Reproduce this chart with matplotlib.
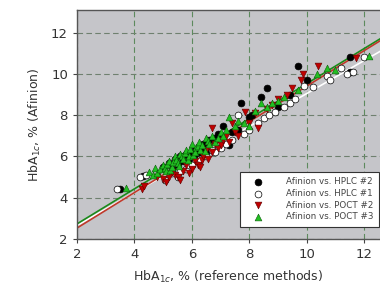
import matplotlib.pyplot as plt
import numpy as np

# values
hplc2_x = [3.5, 4.3, 5.0, 5.2, 5.3, 5.4, 5.5, 5.6, 5.7, 5.8, 5.9, 6.0, 6.1, 6.2, 6.3,
           6.4, 6.5, 6.6, 6.8, 6.9, 7.1, 7.3, 7.4, 7.6, 7.7, 8.0, 8.1, 8.4, 8.6,
           9.0, 9.4, 9.7, 10.0, 11.5, 11.5]
hplc2_y = [4.4, 5.05, 5.5, 5.7, 5.4, 5.9, 5.6, 6.0, 5.8, 6.1, 5.9, 6.1, 6.3, 6.0, 6.4,
           6.6, 6.2, 6.8, 6.9, 7.1, 7.5, 6.55, 7.2, 7.3, 8.6, 7.9, 8.0, 8.9, 9.3,
           8.4, 9.0, 10.4, 9.7, 10.8, 10.1]

hplc1_x = [3.4, 4.2, 4.4, 5.05, 5.3, 5.5, 5.6, 5.8, 5.9, 6.0, 6.2, 6.3, 6.5, 6.7,
           6.8, 7.0, 7.2, 7.4, 7.6, 7.8, 8.0, 8.3, 8.5, 8.7, 8.9, 9.2, 9.4, 9.6,
           9.9, 10.2, 10.7, 10.8, 11.2, 11.4, 11.6, 11.98]
hplc1_y = [4.4, 5.0, 5.1, 4.85, 5.2, 5.0, 5.3, 5.4, 5.6, 5.6, 5.8, 5.9, 6.0, 6.3,
           6.2, 6.4, 6.6, 6.8, 8.0, 7.1, 7.3, 7.6, 7.85, 8.0, 8.15, 8.4, 8.6, 8.8,
           9.4, 9.35, 9.9, 9.7, 10.3, 10.0, 10.1, 10.8]

poct2_x = [4.25, 4.35, 4.8, 5.0, 5.1, 5.2, 5.3, 5.4, 5.5, 5.6, 5.7, 5.8, 5.9, 6.0,
           6.1, 6.2, 6.3, 6.35, 6.4, 6.5, 6.55, 6.6, 6.7, 6.8, 6.7, 6.9, 7.0, 7.1,
           7.2, 7.3, 7.4, 7.5, 7.6, 7.85, 8.0, 8.2, 8.3, 8.6, 8.8, 9.0, 9.3, 9.5,
           9.8, 9.86, 10.4, 11.7]
poct2_y = [4.4, 4.55, 5.0, 4.9, 4.75, 5.0, 5.25, 5.1, 5.0, 4.86, 5.3, 5.6, 5.2, 5.4,
           5.8, 5.6, 5.5, 5.85, 6.0, 6.3, 5.9, 6.5, 6.2, 6.6, 7.4, 6.4, 6.55, 6.8,
           7.0, 6.7, 7.6, 7.2, 7.0, 8.15, 7.6, 8.1, 7.4, 8.3, 8.5, 8.8, 9.0, 9.3,
           9.7, 10.0, 10.4, 10.77]

poct3_x = [3.7, 4.5, 4.65, 4.7, 4.8, 4.9, 5.0, 5.05, 5.1, 5.15, 5.2, 5.25, 5.3, 5.35,
           5.4, 5.45, 5.5, 5.55, 5.6, 5.65, 5.7, 5.75, 5.8, 5.85, 5.9, 5.95, 6.0,
           6.05, 6.1, 6.15, 6.2, 6.25, 6.3, 6.35, 6.45, 6.5, 6.55, 6.6, 6.7, 6.8,
           6.9, 7.0, 7.1, 7.2, 7.3, 7.5, 7.6, 7.8, 8.0, 8.2, 8.4, 8.6, 8.8, 9.0,
           9.2, 9.7, 10.35, 10.7, 11.0, 12.15]
poct3_y = [4.45, 5.25, 5.1, 5.45, 5.2, 5.4, 5.6, 5.45, 5.3, 5.65, 5.8, 5.35, 5.5, 5.75,
           6.0, 5.85, 5.7, 5.55, 6.1, 6.0, 5.9, 6.15, 6.3, 5.85, 6.0, 6.35, 6.6,
           6.05, 6.2, 6.45, 6.5, 6.7, 6.3, 6.55, 6.25, 6.9, 6.75, 6.6, 7.0, 6.7,
           6.9, 7.2, 7.0, 7.3, 7.9, 7.5, 7.7, 7.6, 7.5, 8.2, 8.6, 8.4, 8.6, 8.7,
           8.9, 9.2, 10.0, 10.3, 10.2, 10.86]

# regression lines (intercept, slope)
fit_white = (1.05, 0.80)
fit_red = (0.81, 0.86)
fit_green = (1.03, 0.85)

labels = ['Afinion vs. HPLC #2', 'Afinion vs. HPLC #1',
          'Afinion vs. POCT #2', 'Afinion vs. POCT #3']

fig = plt.figure(figsize=(3.8, 2.99), dpi=100)
ax = fig.add_axes([0.2026, 0.2007, 0.7974, 0.766])
ax.set_facecolor('#c5c5c9')

ax.set_xlim(2, 12.55)
ax.set_ylim(2, 13.1)

xs = np.array([2, 12.55])
ax.plot(xs, fit_white[0] + fit_white[1] * xs, color='white', lw=1.2, zorder=2)
ax.plot(xs, fit_green[0] + fit_green[1] * xs, color='#1a8a1a', lw=1.2, zorder=2)
ax.plot(xs, fit_red[0] + fit_red[1] * xs, color='#c0392b', lw=1.2, zorder=2)

ms = 24
ax.scatter(hplc2_x, hplc2_y, s=ms, marker='o', facecolor='black', edgecolor='black',
           lw=0.5, zorder=3, label=labels[0])
ax.scatter(hplc1_x, hplc1_y, s=ms, marker='o', facecolor='white', edgecolor='black',
           lw=0.5, zorder=3, label=labels[1])
ax.scatter(poct2_x, poct2_y, s=ms, marker='v', facecolor='#c00000', edgecolor='#600000',
           lw=0.4, zorder=3, label=labels[2])
ax.scatter(poct3_x, poct3_y, s=ms, marker='^', facecolor='#22c022', edgecolor='#0a5a0a',
           lw=0.4, zorder=4, label=labels[3])

ax.set_xticks([2, 4, 6, 8, 10, 12])
ax.set_yticks([2, 4, 6, 8, 10, 12])
ax.xaxis.grid(True, color='#5d8a5d', linestyle=(0, (5, 3)), lw=0.8)
ax.yaxis.grid(True, color='#6f806f', linestyle=(0, (5, 3)), lw=0.8)
ax.set_axisbelow(True)
ax.tick_params(direction='out', length=3, colors='#444444', labelsize=9.5,
               labelcolor='#333333')
for side in ['left', 'bottom', 'top']:
    ax.spines[side].set_color('#555555')
    ax.spines[side].set_linewidth(1.0)
ax.spines['right'].set_visible(False)

ax.set_xlabel('HbA$_{1c}$, % (reference methods)', fontsize=9, color='#333333',
              labelpad=6)
ax.set_ylabel('HbA$_{1c}$, % (Afinion)', fontsize=9, color='#333333', labelpad=6)

leg = ax.legend(loc='lower right', bbox_to_anchor=(1.01, 0.035), fontsize=6.3,
                frameon=True, fancybox=False, edgecolor='#333333', framealpha=1,
                handletextpad=1.8, borderpad=0.6, labelspacing=0.3, markerscale=1.0,
                handlelength=2.8, labelcolor='#444444')
leg.get_frame().set_linewidth(0.8)

fig.savefig('out.png', dpi=100)
